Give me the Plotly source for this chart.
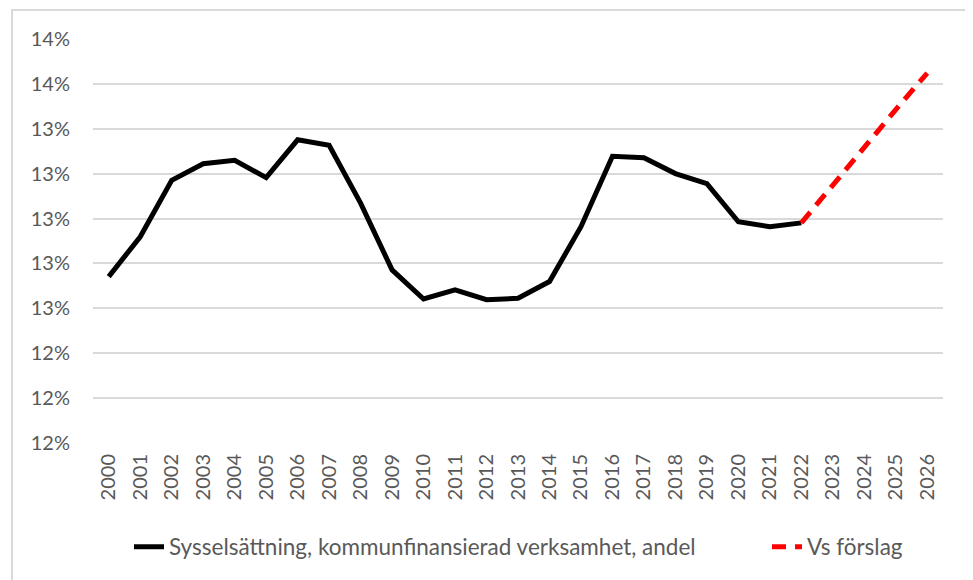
import plotly.graph_objects as go

years = [str(y) for y in range(2000, 2027)]
actual_years = years[:23]
forecast_years = years[22:]

actual_share = [0.12741, 0.12919, 0.13171, 0.13245, 0.13260, 0.13183, 0.13352, 0.13327,
                0.13069, 0.12771, 0.12641, 0.12682, 0.12638, 0.12644, 0.12719, 0.12964,
                0.13278, 0.13272, 0.13201, 0.13156, 0.12986, 0.12964, 0.12981]
forecast_share = [0.12981, 0.13153, 0.13318, 0.13487, 0.13650]

ytick_vals = [0.120, 0.122, 0.124, 0.126, 0.128, 0.130, 0.132, 0.134, 0.136, 0.138]
ytick_text = ["12%", "12%", "12%", "13%", "13%", "13%", "13%", "13%", "14%", "14%"]

name_actual = "Sysselsättning, kommunfinansierad verksamhet, andel"
name_forecast = "Vs förslag"

FONT = "Lato, 'Open Sans', sans-serif"
GRAY = "#595959"

# page has an 8px body margin; figure is sized to fit inside the window
OFF = 8
W, H = 973 - OFF, 580 - OFF
L = 93 - OFF
T = 39 - OFF
R = W - (943 - OFF)
B = 137
pw = W - L - R
ph = H - T - B

def px_x(p):
    return (p - OFF - L) / pw

def px_y(p):
    return (H - B - (p - OFF)) / ph

fig = go.Figure()
fig.add_trace(go.Scatter(x=actual_years, y=actual_share, mode="lines", name=name_actual,
                         line=dict(color="#000000", width=5), legend="legend"))
fig.add_trace(go.Scatter(x=forecast_years, y=forecast_share, mode="lines", name=name_forecast,
                         line=dict(color="#FF0000", width=5, dash="14px,9px"), legend="legend2"))

fig.add_shape(type="rect", xref="paper", yref="paper",
              x0=px_x(12), x1=px_x(971), y0=px_y(600), y1=px_y(10),
              line=dict(color="#d9d9d9", width=2), fillcolor="rgba(0,0,0,0)", layer="below")

legend_common = dict(orientation="h", xanchor="left", yanchor="middle",
                     font=dict(family=FONT, size=22.5, color=GRAY),
                     bgcolor="rgba(0,0,0,0)")

fig.update_layout(
    width=W, height=H,
    margin=dict(l=L, r=R, t=T, b=B),
    paper_bgcolor="white", plot_bgcolor="white",
    font=dict(family=FONT, color=GRAY, size=20),
    showlegend=True,
    legend=dict(x=px_x(129), y=px_y(547), **legend_common),
    legend2=dict(x=px_x(767), y=px_y(547), **legend_common),
    xaxis=dict(type="category", categoryorder="array", categoryarray=years,
               range=[-0.5, 26.5], tickangle=-90, showgrid=False, zeroline=False,
               showline=False, ticks="", ticklabelstandoff=6,
               tickfont=dict(family=FONT, size=20, color=GRAY)),
    yaxis=dict(range=[0.11998, 0.13802], tickvals=ytick_vals, ticktext=ytick_text,
               showgrid=True, gridcolor="#d9d9d9", gridwidth=1.5, zeroline=False,
               showline=False, ticks="", ticklabelstandoff=22,
               tickfont=dict(family=FONT, size=20, color=GRAY)),
)

fig.write_html("out.html")
